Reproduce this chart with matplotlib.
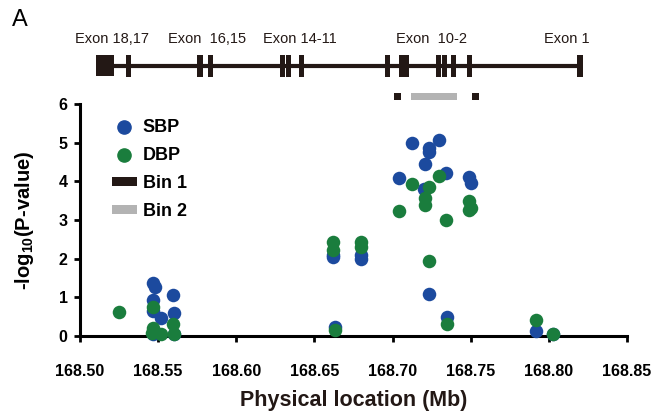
import matplotlib
matplotlib.use("Agg")
import matplotlib.pyplot as plt
from matplotlib.lines import Line2D
from matplotlib.patches import Patch, Rectangle

plt.rcParams['font.family'] = ['Liberation Sans', 'DejaVu Sans']

# ---- data ----
sbp_x = [168.547, 168.548, 168.547, 168.547, 168.547, 168.552, 168.5597, 168.560, 168.560,
         168.6618, 168.6618, 168.663, 168.680, 168.680,
         168.7126, 168.723, 168.723, 168.730, 168.721, 168.704, 168.734, 168.749, 168.750,
         168.720, 168.723, 168.735, 168.792, 168.8026]
sbp_y = [1.37, 1.28, 0.94, 0.64, 0.05, 0.47, 1.05, 0.60, 0.06,
         2.09, 2.04, 0.23, 2.09, 1.99,
         4.98, 4.87, 4.76, 5.06, 4.44, 4.08, 4.21, 4.10, 3.96,
         3.80, 1.08, 0.49, 0.13, 0.04]
dbp_x = [168.5252, 168.547, 168.547, 168.546, 168.552, 168.5597, 168.560,
         168.6618, 168.6618, 168.663, 168.680, 168.680,
         168.730, 168.7126, 168.723, 168.721, 168.721, 168.704, 168.734,
         168.749, 168.749, 168.750, 168.723, 168.735, 168.792, 168.8026]
dbp_y = [0.62, 0.75, 0.21, 0.08, 0.04, 0.30, 0.05,
         2.42, 2.22, 0.15, 2.42, 2.31,
         4.14, 3.93, 3.85, 3.56, 3.38, 3.24, 2.99,
         3.50, 3.27, 3.30, 1.94, 0.32, 0.41, 0.04]

gene_start, gene_end = 168.5102, 168.8204
first_block = (168.5102, 168.5216)
exon_centers = [168.5309, 168.5768, 168.5837, 168.6296, 168.6332, 168.6416,
                168.6968, 168.7055, 168.7090, 168.7296, 168.7330, 168.7388,
                168.7492, 168.8199]
exon_labels = ["Exon 18,17", "Exon  16,15", "Exon 14-11", "Exon  10-2", "Exon 1"]
exon_label_x = [168.5205, 168.5813, 168.6408, 168.7250, 168.8118]
bin1_pos = [168.7032, 168.7531]
bin2_range = (168.7119, 168.7411)

x_ticks = [168.50, 168.55, 168.60, 168.65, 168.70, 168.75, 168.80, 168.85]
y_ticks = [0, 1, 2, 3, 4, 5, 6]

blue = '#1C4A9E'
green = '#1A7D3D'
dark = '#231815'
grey = '#B3B3B3'

W, H = 653, 412
fig = plt.figure(figsize=(W / 100, H / 100), dpi=100)

# main axes
ax = fig.add_axes([80 / W, (H - 336) / H, (627 - 80) / W, (336 - 104) / H])
ax.scatter(sbp_x, sbp_y, s=95, color=blue, clip_on=False, zorder=3, linewidths=0)
ax.scatter(dbp_x, dbp_y, s=95, color=green, clip_on=False, zorder=4, linewidths=0)
ax.set_xlim(168.50, 168.85)
ax.set_ylim(0, 6)
ax.set_xticks(x_ticks)
ax.set_xticklabels([f"{v:.2f}" for v in x_ticks])
ax.set_yticks(y_ticks)
for s in ['top', 'right']:
    ax.spines[s].set_visible(False)
for s in ['left', 'bottom']:
    ax.spines[s].set_linewidth(2.2)
    ax.spines[s].set_color('black')
ax.tick_params(axis='x', direction='out', length=4, width=2, pad=16, labelsize=11.5)
ax.tick_params(axis='y', direction='out', length=4, width=2, pad=5, labelsize=11.5)
for lab in ax.get_xticklabels() + ax.get_yticklabels():
    lab.set_fontweight('bold')
ax.set_xlabel("Physical location (Mb)", fontsize=15.5, fontweight='bold', labelpad=8,
              color='#231815')
ax.set_ylabel(r"-log$_{\mathregular{10}}$(P-value)", fontsize=14.5, fontweight='bold',
              labelpad=16)

handles = [
    Line2D([], [], marker='o', linestyle='none', color=blue, markersize=9.5),
    Line2D([], [], marker='o', linestyle='none', color=green, markersize=9.5),
    Patch(facecolor=dark, edgecolor='none'),
    Patch(facecolor=grey, edgecolor='none'),
]
leg = ax.legend(handles, ["SBP", "DBP", "Bin 1", "Bin 2"], loc='upper left',
                bbox_to_anchor=(0.045, 0.965), frameon=False,
                prop={'weight': 'bold', 'size': 13}, handlelength=1.4,
                handleheight=0.45, handletextpad=0.3, labelspacing=0.6,
                borderaxespad=0)

# gene structure axes
gax = fig.add_axes([80 / W, (H - 105) / H, (627 - 80) / W, 60 / H], sharex=None)
gax.set_xlim(168.50, 168.85)
gax.set_ylim(-3.64, 1.92)
gax.axis('off')
gax.plot([gene_start, gene_end], [0, 0], color=dark, lw=3, solid_capstyle='butt')
gax.add_patch(Rectangle((first_block[0], -0.95), first_block[1] - first_block[0], 1.9,
                        facecolor=dark, edgecolor='none'))
ew = 0.0033
for c in exon_centers:
    gax.add_patch(Rectangle((c - ew / 2, -1.0), ew, 2.0, facecolor=dark, edgecolor='none'))
for lx, lt in zip(exon_label_x, exon_labels):
    gax.text(lx, 1.85, lt, ha='center', va='bottom', fontsize=10.5, color='#231815')
bw = 0.0045
for b in bin1_pos:
    gax.add_patch(Rectangle((b - bw / 2, -3.15), bw, 0.65, facecolor=dark, edgecolor='none'))
gax.add_patch(Rectangle((bin2_range[0], -3.15), bin2_range[1] - bin2_range[0], 0.65,
                        facecolor=grey, edgecolor='none'))

fig.text(12 / W, 1 - 20 / H, "A", fontsize=17, va='center', ha='left')

fig.savefig("out.png", dpi=100)
